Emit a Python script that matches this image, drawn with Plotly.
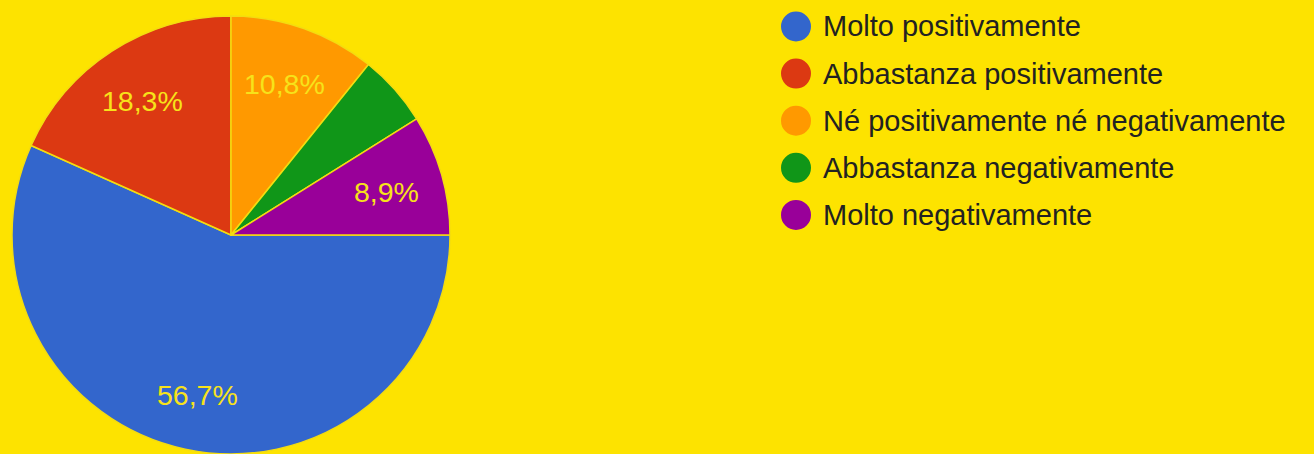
import math
import plotly.graph_objects as go

labels = ["Molto positivamente", "Abbastanza positivamente",
          "Né positivamente né negativamente", "Abbastanza negativamente",
          "Molto negativamente"]
values = [56.7, 18.3, 10.8, 5.3, 8.9]
colors = ["#3366cc", "#dc3912", "#ff9900", "#109618", "#990099"]

W, H = 1314, 454
BG = "#fde300"
FONT = "Liberation Sans, Arial, sans-serif"
LABEL_MIN = 6.0  # slices smaller than this get no label
START_DEG = 90   # first slice starts at 3 o'clock, going clockwise

# pie geometry (pixels)
cx, cy_top, R = 231, 235, 219

fig = go.Figure()
fig.add_trace(go.Pie(
    labels=labels, values=values, sort=False, direction="clockwise",
    rotation=START_DEG,
    marker=dict(colors=colors, line=dict(color="#f3dc10", width=1.5)),
    textinfo="none",
    hoverinfo="label+percent", showlegend=False,
    domain=dict(x=[(cx - R) / W, (cx + R) / W], y=[0, 2 * R / H]),
))

annotations = []
shapes = []

# percentage labels placed along each slice's mid-angle
total = sum(values)
acc = 0.0
for v in values:
    frac = v / total
    mid = math.radians(START_DEG + 360 * (acc + frac / 2))
    acc += frac
    if v < LABEL_MIN:
        continue
    dist = 0.74 * R
    px = cx + dist * math.sin(mid)
    py_up = (H - cy_top) + dist * math.cos(mid) - 2
    annotations.append(dict(
        text=f"{100 * frac:.1f}%".replace(".", ","),
        xref="paper", yref="paper", x=px / W, y=py_up / H,
        xanchor="center", yanchor="middle", showarrow=False,
        font=dict(family=FONT, size=28.5, color="#f7e21a")))

# Manual legend: circle + label per category
x_c, r = 796, 15
x_txt = 821
row0, row_step = 26.5, 47.1
for i, (lab, col) in enumerate(zip(labels, colors)):
    yc = row0 + i * row_step
    shapes.append(dict(type="circle", xref="paper", yref="paper",
                       x0=(x_c - r) / W, x1=(x_c + r) / W,
                       y0=(H - yc - r) / H, y1=(H - yc + r) / H,
                       fillcolor=col, line=dict(width=0)))
    annotations.append(dict(text=lab, xref="paper", yref="paper",
                            x=x_txt / W, y=(H - yc) / H,
                            xanchor="left", yanchor="middle", showarrow=False,
                            font=dict(family=FONT, size=29, color="#222222")))

fig.update_layout(
    width=W, height=H, autosize=False,
    margin=dict(l=0, r=0, t=0, b=0),
    paper_bgcolor=BG, plot_bgcolor=BG,
    separators=",.",
    shapes=shapes, annotations=annotations,
)

fig.write_html(
    "out.html",
    config={"displayModeBar": False},
    post_script="document.body.style.margin='0';"
                "document.body.style.overflow='hidden';"
                f"document.body.style.background='{BG}';",
)
